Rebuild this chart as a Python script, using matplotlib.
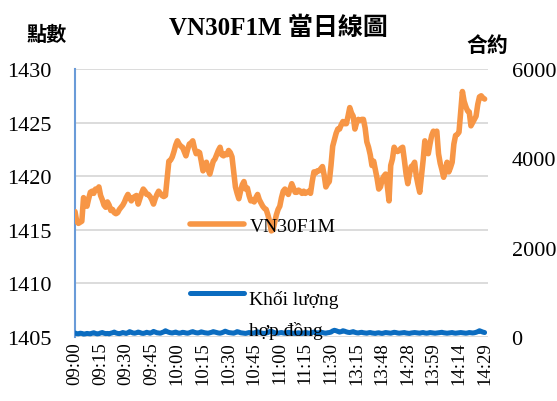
import matplotlib
matplotlib.use("Agg")
import matplotlib.pyplot as plt
import numpy as np
from matplotlib.legend_handler import HandlerLine2D

plt.rcParams['font.family'] = ['Liberation Serif', 'Noto Sans CJK TC', 'DejaVu Sans']

# ── Data ──
tick_labels = ['09:00', '09:15', '09:30', '09:45', '10:00', '10:15', '10:30', '10:45',
               '11:00', '11:15', '11:30', '13:15', '13:48', '14:28', '13:59', '14:14', '14:29']

price = [
    1416.7, 1415.8, 1415.6, 1415.7, 1415.8, 1418.0, 1417.6, 1417.2, 1417.9, 1418.5,
    1418.6, 1418.4, 1418.8, 1418.7, 1419.0, 1418.2, 1417.8, 1417.3, 1417.1, 1417.6,
    1417.3, 1416.8, 1416.9, 1416.6, 1416.5, 1416.6, 1416.9, 1417.1, 1417.3, 1417.6,
    1418.0, 1418.3, 1418.0, 1417.7, 1418.0, 1418.1, 1418.2, 1417.4, 1417.9, 1418.4,
    1418.8, 1418.6, 1418.3, 1418.3, 1418.1, 1417.8, 1417.4, 1417.9, 1418.3, 1418.6,
    1418.4, 1418.2, 1418.1, 1418.2, 1419.8, 1421.4, 1421.5, 1421.8, 1422.3, 1422.9,
    1423.3, 1423.0, 1422.8, 1422.7, 1422.3, 1421.9, 1422.5, 1423.0, 1423.1, 1423.3,
    1422.6, 1422.1, 1422.3, 1422.2, 1421.4, 1420.5, 1421.0, 1421.3, 1420.6, 1420.2,
    1420.8, 1421.4, 1421.6, 1422.0, 1422.4, 1422.7, 1422.0, 1421.9, 1422.1, 1422.0,
    1422.4, 1422.2, 1421.8, 1420.4, 1419.0, 1418.4, 1417.9, 1418.6, 1419.2, 1419.5,
    1418.8, 1418.9, 1418.2, 1417.7, 1417.8, 1417.6, 1418.0, 1418.3, 1417.8, 1417.5,
    1417.2, 1417.0, 1416.9, 1416.4, 1415.8, 1414.9, 1415.0, 1415.7, 1416.4, 1416.9,
    1417.2, 1418.0, 1418.6, 1418.8, 1418.5, 1418.3, 1418.8, 1419.3, 1418.9, 1418.5,
    1418.5, 1418.7, 1418.6, 1418.4, 1418.6, 1418.4, 1418.5, 1418.6, 1418.4, 1419.5,
    1420.4, 1420.3, 1420.5, 1420.5, 1420.7, 1420.9, 1420.1, 1419.0, 1419.3, 1419.5,
    1421.0, 1422.8, 1423.4, 1424.0, 1424.4, 1424.4, 1424.8, 1425.1, 1424.9, 1424.9,
    1425.6, 1426.4, 1425.9, 1425.6, 1424.4, 1425.0, 1425.3, 1425.2, 1425.3, 1425.3,
    1424.5, 1423.2, 1422.7, 1422.0, 1421.0, 1421.4, 1420.6, 1419.8, 1418.8, 1419.0,
    1419.7, 1420.0, 1420.2, 1419.1, 1417.7, 1421.0, 1421.6, 1422.7, 1422.4, 1422.3,
    1422.4, 1422.6, 1422.7, 1421.5, 1420.2, 1419.3, 1420.2, 1420.9, 1421.0, 1421.3,
    1420.0, 1419.2, 1418.5, 1420.0, 1421.5, 1423.3, 1422.6, 1422.1, 1423.0, 1423.8,
    1424.2, 1424.1, 1424.2, 1422.1, 1421.2, 1420.6, 1419.9, 1420.5, 1421.3, 1420.4,
    1420.8, 1421.3, 1423.0, 1423.8, 1423.9, 1424.1, 1426.0, 1427.9, 1427.0, 1426.5,
    1426.1, 1426.0, 1424.7, 1425.0, 1425.3, 1425.6, 1426.7, 1427.4, 1427.5, 1427.3, 1427.2,
]

volume = [
    90, 75, 70, 85, 80, 65, 70, 80, 75, 70, 85, 95, 80, 70, 75, 90, 100, 85, 75, 80,
    70, 85, 95, 110, 90, 80, 75, 85, 100, 90, 80, 95, 120, 105, 90, 85, 95, 110, 100, 85,
    80, 90, 105, 95, 85, 100, 125, 110, 95, 90, 85, 100, 115, 140, 120, 105, 95, 90, 100, 110,
    95, 85, 90, 105, 100, 90, 85, 95, 110, 120, 105, 95, 90, 100, 115, 105, 95, 90, 85, 95,
    105, 120, 110, 100, 90, 85, 95, 110, 130, 115, 100, 95, 90, 85, 100, 120, 110, 95, 90, 85,
    80, 90, 100, 95, 85, 90, 105, 115, 100, 90, 85, 80, 90, 100, 120, 130, 110, 95, 90, 85,
    95, 100, 90, 85, 95, 105, 100, 90, 85, 80, 90, 95, 85, 80, 90, 100, 95, 85, 90, 100,
    110, 100, 90, 95, 105, 100, 90, 85, 95, 100, 110, 135, 150, 140, 125, 110, 120, 140, 130, 115,
    105, 100, 110, 120, 105, 95, 90, 100, 105, 95, 90, 85, 95, 100, 90, 85, 80, 90, 95, 85,
    80, 90, 100, 95, 90, 85, 95, 105, 100, 90, 85, 90, 95, 100, 90, 85, 80, 90, 95, 100,
    95, 90, 85, 95, 100, 90, 85, 90, 100, 95, 90, 85, 90, 95, 100, 105, 95, 90, 85, 90,
    95, 100, 90, 85, 90, 95, 100, 95, 90, 85, 90, 100, 95, 90, 95, 105, 120, 140, 125, 110,
    100,
]

ORANGE = '#F79646'
BLUE = '#0B6CC0'


class HandlerTopLine(HandlerLine2D):
    """Legend line raised to the first line of a two-line label."""
    def __init__(self, shift=0, **kw):
        super().__init__(**kw)
        self.shift = shift

    def create_artists(self, legend, orig_handle, xdescent, ydescent, width, height, fontsize, trans):
        arts = super().create_artists(legend, orig_handle, xdescent, ydescent, width, height, fontsize, trans)
        for a in arts:
            a.set_ydata(np.asarray(a.get_ydata()) + self.shift)
        return arts


W, H = 557, 402
fig = plt.figure(figsize=(W / 100, H / 100), dpi=100)
ax = fig.add_axes([75 / W, 1 - 338 / H, (488 - 75) / W, (338 - 70) / H])
ax2 = ax.twinx()

x = np.arange(len(price))
ln_p, = ax.plot(x, price, color=ORANGE, lw=4, solid_capstyle='round', solid_joinstyle='round',
                label='VN30F1M', zorder=3)
ln_v, = ax2.plot(x, volume, color=BLUE, lw=3.6, solid_capstyle='round', solid_joinstyle='round',
                 label='Khối lượng\nhợp đồng')

ax.set_xlim(0, 242)
ax.set_ylim(1405, 1430)
ax.set_yticks(np.arange(1405, 1431, 5))
ax2.set_ylim(0, 6000)
ax2.set_yticks([0, 2000, 4000, 6000])

ax.set_xticks(np.arange(0, len(price), 15))
ax.set_xticklabels(tick_labels, rotation=90, fontsize=13.5)
ax.yaxis.grid(True, color='#D9D9D9', lw=1.3)
ax.set_axisbelow(True)

for s in ['top', 'right', 'bottom']:
    ax.spines[s].set_visible(False)
ax.spines['left'].set_color('#6A9BD8')
ax.spines['left'].set_linewidth(1.5)
for s in ax2.spines.values():
    s.set_visible(False)

ax.tick_params(axis='y', length=0, pad=17, labelsize=16)
ax.tick_params(axis='x', length=0, pad=3)
ax2.tick_params(axis='y', length=0, pad=17, labelsize=16)

# titles
fig.text(278 / W, 1 - 28 / H, 'VN30F1M 當日線圖', ha='center', va='center',
         fontsize=18, fontweight='bold')
fig.text(47 / W, 1 - 36 / H, '點數', ha='center', va='center', fontsize=14.5, fontweight='bold')
fig.text(487 / W, 1 - 47 / H, '合約', ha='center', va='center', fontsize=15, fontweight='bold')

leg = fig.legend([ln_p, ln_v], ['VN30F1M', 'Khối lượng\nhợp đồng'],
                 loc='upper left', bbox_to_anchor=(190 / W, 1 - 218 / H),
                 frameon=False, fontsize=14, borderpad=0, borderaxespad=0,
                 handlelength=2.8, handletextpad=0.25, labelspacing=2.85,
                 handler_map={ln_v: HandlerTopLine(shift=15)})
leg.get_texts()[1].set_linespacing(1.9)

fig.savefig('out.png', dpi=100, facecolor='white')
